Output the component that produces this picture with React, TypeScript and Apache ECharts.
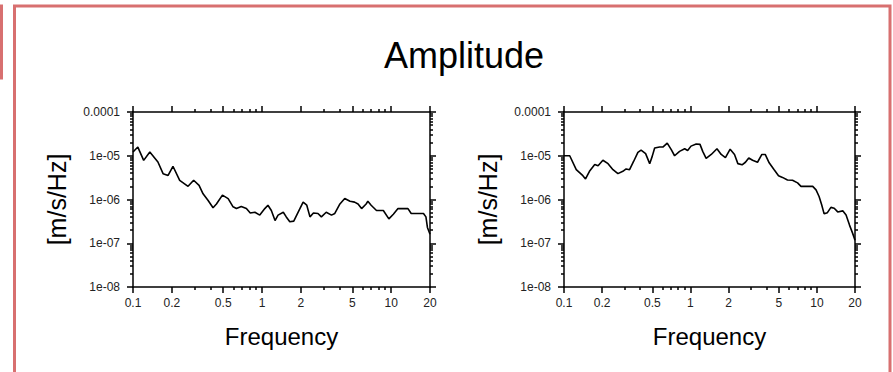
import React, { useEffect, useRef } from 'react';
import * as echarts from 'echarts';

const titleText = 'Amplitude';
const xName = 'Frequency';
const yName = '[m/s/Hz]';

const freqLeft = [0.1, 0.109, 0.121, 0.135, 0.156, 0.171, 0.187, 0.204, 0.23, 0.267, 0.295, 0.325, 0.349, 0.382, 0.417, 0.443, 0.493, 0.546, 0.596, 0.633, 0.69, 0.756, 0.81, 0.88, 0.96, 1.05, 1.11, 1.18, 1.26, 1.33, 1.46, 1.54, 1.64, 1.76, 1.9, 2.08, 2.22, 2.35, 2.5, 2.71, 2.88, 3.14, 3.45, 3.66, 4.01, 4.37, 4.8, 5.21, 5.54, 5.9, 6.4, 6.6, 7.0, 7.7, 8.7, 9.6, 10.4, 11.3, 13.5, 14.3, 17.8, 18.6, 19.1, 19.7, 20];
const ampLeft = [1.22e-5, 1.58e-5, 7.85e-6, 1.22e-5, 7.2e-6, 3.9e-6, 3.55e-6, 5.75e-6, 2.75e-6, 2.0e-6, 2.75e-6, 2.1e-6, 1.35e-6, 9.5e-7, 6.5e-7, 7.9e-7, 1.26e-6, 1.05e-6, 6.8e-7, 6.2e-7, 6.9e-7, 6.2e-7, 4.9e-7, 5.1e-7, 4.4e-7, 6.2e-7, 7.4e-7, 5.6e-7, 3.3e-7, 4.4e-7, 5.1e-7, 4.0e-7, 3.1e-7, 3.2e-7, 5.1e-7, 8.7e-7, 7.4e-7, 4.0e-7, 4.9e-7, 4.8e-7, 4.0e-7, 5.1e-7, 4.4e-7, 4.8e-7, 7.9e-7, 1.05e-6, 9.1e-7, 8.7e-7, 7.9e-7, 6.2e-7, 7.9e-7, 9.1e-7, 7.4e-7, 5.6e-7, 5.6e-7, 3.6e-7, 4.6e-7, 6.2e-7, 6.2e-7, 4.8e-7, 4.8e-7, 4.0e-7, 2.3e-7, 1.8e-7, 1.6e-7];

const freqRight = [0.1, 0.111, 0.125, 0.141, 0.148, 0.159, 0.175, 0.186, 0.203, 0.223, 0.244, 0.267, 0.292, 0.31, 0.33, 0.355, 0.384, 0.407, 0.442, 0.476, 0.499, 0.521, 0.57, 0.605, 0.655, 0.705, 0.749, 0.82, 0.9, 0.95, 1.01, 1.11, 1.19, 1.25, 1.33, 1.46, 1.62, 1.75, 1.89, 2.06, 2.23, 2.37, 2.56, 2.72, 2.89, 3.1, 3.39, 3.67, 3.9, 4.19, 4.59, 4.97, 5.34, 5.85, 6.41, 7.03, 7.48, 9.26, 9.84, 10.4, 10.9, 11.4, 12.1, 12.9, 13.7, 14.6, 16.0, 17.0, 18.1, 19.2, 20];
const ampRight = [1.0e-5, 1.0e-5, 4.8e-6, 3.5e-6, 2.95e-6, 4.4e-6, 6.3e-6, 5.9e-6, 7.9e-6, 6.6e-6, 4.8e-6, 3.9e-6, 4.4e-6, 5.0e-6, 4.8e-6, 7.4e-6, 1.2e-5, 1.35e-5, 1.12e-5, 6.6e-6, 9.8e-6, 1.51e-5, 1.58e-5, 1.58e-5, 1.95e-5, 1.38e-5, 1.0e-5, 1.26e-5, 1.45e-5, 1.32e-5, 1.66e-5, 1.86e-5, 1.82e-5, 1.26e-5, 8.7e-6, 1.07e-5, 1.45e-5, 1.07e-5, 9.1e-6, 1.41e-5, 1.07e-5, 6.6e-6, 6.2e-6, 7.1e-6, 8.9e-6, 7.9e-6, 7.1e-6, 1.07e-5, 1.07e-5, 6.9e-6, 4.8e-6, 3.5e-6, 3.2e-6, 2.8e-6, 2.75e-6, 2.4e-6, 2.0e-6, 2.0e-6, 1.66e-6, 1.17e-6, 7.6e-7, 4.7e-7, 5.0e-7, 6.6e-7, 6.3e-7, 5.2e-7, 5.5e-7, 4.4e-7, 2.6e-7, 1.66e-7, 1.17e-7];

const xMajorTicks = [0.1, 0.2, 0.5, 1, 2, 5, 10, 20];
const xTickLabels = ['0.1', '0.2', '0.5', '1', '2', '5', '10', '20'];
const xMinorTicks = [0.3, 0.4, 0.6, 0.7, 0.8, 0.9, 3, 4, 6, 7, 8, 9];
const yMajorTicks = [1e-8, 1e-7, 1e-6, 1e-5, 1e-4];
const yTickLabels = ['1e-08', '1e-07', '1e-06', '1e-05', '0.0001'];
const yMinorTicks = [
  2e-8, 3e-8, 4e-8, 5e-8, 6e-8, 7e-8, 8e-8, 9e-8,
  2e-7, 3e-7, 4e-7, 5e-7, 6e-7, 7e-7, 8e-7, 9e-7,
  2e-6, 3e-6, 4e-6, 5e-6, 6e-6, 7e-6, 8e-6, 9e-6,
  2e-5, 3e-5, 4e-5, 5e-5, 6e-5, 7e-5, 8e-5, 9e-5,
];

const FONT = '"Liberation Sans", Arial, Helvetica, sans-serif';

function nearestLabel(v: number, ticks: number[], labels: string[]) {
  let best = 0;
  let bd = Infinity;
  ticks.forEach((t, i) => {
    const d = Math.abs(Math.log10(t) - Math.log10(v));
    if (d < bd) { bd = d; best = i; }
  });
  return labels[best];
}

function makeX(gridIndex: number, position: 'top' | 'bottom', major: boolean, showLabels: boolean) {
  return {
    type: 'log',
    logBase: 10,
    gridIndex,
    position,
    min: 0.1,
    max: 20,
    name: showLabels ? xName : '',
    nameLocation: 'middle',
    nameGap: 37,
    nameTextStyle: { fontSize: 24, color: '#000', fontFamily: FONT },
    axisLine: { show: major, onZero: false, lineStyle: { color: '#000', width: 1.5 } },
    axisTick: {
      show: true,
      inside: false,
      customValues: major ? xMajorTicks : xMinorTicks,
      length: major ? 6 : 3,
      lineStyle: { color: '#000', width: 1.5 },
    },
    minorTick: { show: false },
    axisLabel: {
      show: showLabels,
      customValues: xMajorTicks,
      formatter: (v: number) => nearestLabel(v, xMajorTicks, xTickLabels),
      fontSize: 12,
      color: '#222',
      fontFamily: FONT,
      margin: 10,
    },
    splitLine: { show: false },
  };
}

function makeY(gridIndex: number, position: 'left' | 'right', major: boolean, showLabels: boolean) {
  return {
    type: 'log',
    logBase: 10,
    gridIndex,
    position,
    min: 1e-8,
    max: 1e-4,
    name: showLabels ? yName : '',
    nameLocation: 'middle',
    nameGap: 64,
    nameRotate: 90,
    nameTextStyle: { fontSize: 25, color: '#000', fontFamily: FONT },
    axisLine: { show: major, onZero: false, lineStyle: { color: '#000', width: 1.5 } },
    axisTick: {
      show: true,
      inside: false,
      customValues: major ? yMajorTicks : yMinorTicks,
      length: major ? 6 : 3,
      lineStyle: { color: '#000', width: 1.5 },
    },
    minorTick: { show: false },
    axisLabel: {
      show: showLabels,
      customValues: yMajorTicks,
      formatter: (v: number) => nearestLabel(v, yMajorTicks, yTickLabels),
      fontSize: 12,
      color: '#222',
      fontFamily: FONT,
      margin: 13,
    },
    splitLine: { show: false },
  };
}

export default function App() {
  const ref = useRef<HTMLDivElement>(null);
  useEffect(() => {
    if (!ref.current) return;
    const chart = echarts.init(ref.current, undefined, { renderer: 'svg' });
    const xAxes: any[] = [];
    const yAxes: any[] = [];
    [0, 1].forEach((g) => {
      xAxes.push(makeX(g, 'bottom', true, true));
      xAxes.push(makeX(g, 'bottom', false, false));
      xAxes.push(makeX(g, 'top', true, false));
      xAxes.push(makeX(g, 'top', false, false));
      yAxes.push(makeY(g, 'left', true, true));
      yAxes.push(makeY(g, 'left', false, false));
      yAxes.push(makeY(g, 'right', true, false));
      yAxes.push(makeY(g, 'right', false, false));
    });
    chart.setOption({
      animation: false,
      backgroundColor: '#fff',
      graphic: [
        {
          type: 'rect',
          silent: true,
          shape: { x: 14.5, y: 6, width: 875.5, height: 420 },
          style: { fill: 'none', stroke: '#d87070', lineWidth: 3 },
        },
        {
          type: 'rect',
          silent: true,
          shape: { x: -20, y: 6, width: 21.5, height: 72 },
          style: { fill: 'none', stroke: '#d87070', lineWidth: 3 },
        },
        {
          type: 'text',
          silent: true,
          x: 464,
          y: 55,
          style: {
            text: titleText,
            fontSize: 36,
            fontFamily: FONT,
            fill: '#000',
            align: 'center',
            verticalAlign: 'middle',
          },
        },
      ],
      grid: [
        { left: 133, top: 112, width: 297, height: 175 },
        { left: 564, top: 112, width: 291, height: 175 },
      ],
      xAxis: xAxes,
      yAxis: yAxes,
      series: [
        {
          type: 'line',
          xAxisIndex: 0,
          yAxisIndex: 0,
          data: freqLeft.map((f, i) => [f, ampLeft[i]]),
          showSymbol: false,
          symbol: 'none',
          lineStyle: { color: '#000', width: 1.6 },
        },
        {
          type: 'line',
          xAxisIndex: 4,
          yAxisIndex: 4,
          data: freqRight.map((f, i) => [f, ampRight[i]]),
          showSymbol: false,
          symbol: 'none',
          lineStyle: { color: '#000', width: 1.6 },
        },
      ],
    });
    return () => chart.dispose();
  }, []);
  return (
    <div
      ref={ref}
      style={{ position: 'fixed', left: 0, top: 0, width: 893, height: 372, background: '#fff' }}
    />
  );
}
